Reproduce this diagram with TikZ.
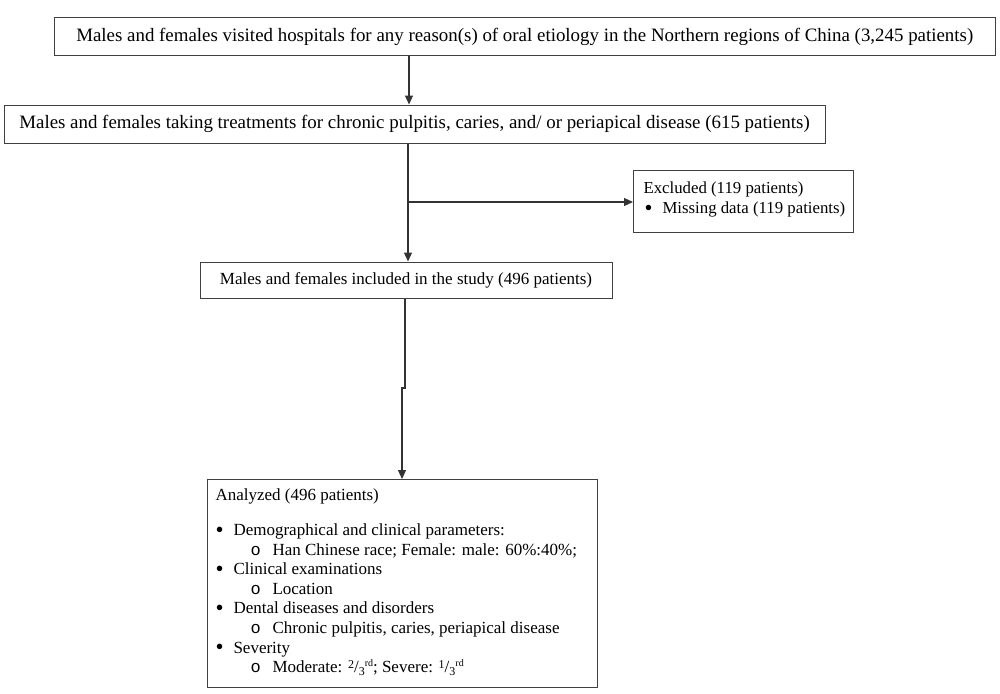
\documentclass[tikz,border=0pt]{standalone}
\usepackage{fontspec}
\usepackage{graphicx}
\setmainfont{Liberation Serif}
\newfontfamily\circfont{Liberation Mono}
\usetikzlibrary{arrows.meta}
\newcommand\bul{\raisebox{-1.8pt}{\scalebox{1.35}{\textbullet}}}
\newcommand\bitem[1]{\hspace*{8pt}\makebox[18pt][l]{\bul}#1\par}
\newcommand\citem[1]{\hspace*{43pt}\makebox[22pt][l]{{\circfont o}}#1\par}
\newcommand\frc[2]{\raisebox{4pt}{\fontsize{12}{12}\selectfont #1}/\raisebox{-3pt}{\fontsize{12}{12}\selectfont #2}\raisebox{6.5pt}{\fontsize{10}{10}\selectfont rd}}
\begin{document}
\begin{tikzpicture}[x=1pt,y=-1pt,
  box/.style={draw=black!75, line width=1pt, inner sep=0pt, font=\fontsize{17}{20}\selectfont},
  big/.style={font=\fontsize{18.9}{22}\selectfont},
  arr/.style={draw=black!80, line width=1.1pt, -{Triangle[length=9pt,width=8pt]}}]
\useasboundingbox (0,0) rectangle (1000,693);
\node[box, big, minimum width=940.5pt, minimum height=38pt] (b1) at (524.75,37)
  {Males and females visited hospitals for any reason(s) of oral etiology in the Northern regions of China (3,245 patients)};
\node[box, big, minimum width=821pt, minimum height=38pt] (b2) at (414.5,124)
  {Males and females taking treatments for chronic pulpitis, caries, and/ or periapical disease (615 patients)};
\node[box, minimum width=412pt, minimum height=36pt] (b3) at (406,280)
  {Males and females included in the study (496 patients)};
\node[box, anchor=north west] (ex) at (633,170)
  {\parbox[t][62pt][t]{220pt}{\setlength{\parindent}{0pt}\fontsize{16.8}{20}\selectfont
   \rule{0pt}{23pt}\hspace*{10pt}Excluded (119 patients)\par
   \hspace*{11pt}\makebox[18pt][l]{\bul}Missing data (119 patients)\par}};
\node[box, anchor=north west] (b4) at (207,479)
  {\parbox[t][208pt][t]{390pt}{\setlength{\parindent}{0pt}\fontsize{17}{19.6}\selectfont
   \rule{0pt}{21pt}\hspace*{8pt}Analyzed (496 patients)\par
   \vspace{15.4pt}
   \bitem{Demographical and clinical parameters:}
   \citem{Han Chinese race; Female: male: 60\%:40\%;}
   \bitem{Clinical examinations}
   \citem{Location}
   \bitem{Dental diseases and disorders}
   \citem{Chronic pulpitis, caries, periapical disease}
   \bitem{Severity}
   \citem{Moderate: \frc{2}{3}; Severe: \frc{1}{3}}}};
\coordinate (c1) at (409,0);
\coordinate (j) at (408,202);
\coordinate (k1) at (405,388);
\coordinate (k2) at (402,388);
\draw[arr] (b1.south -| c1) -- (b2.north -| c1);
\draw[arr] (b2.south -| j) -- (b3.north -| j);
\draw[arr] (j) -- (ex.west |- j);
\draw[arr] (b3.south -| k1) -- (k1) -- (k2) -- (b4.north -| k2);
\end{tikzpicture}
\end{document}
